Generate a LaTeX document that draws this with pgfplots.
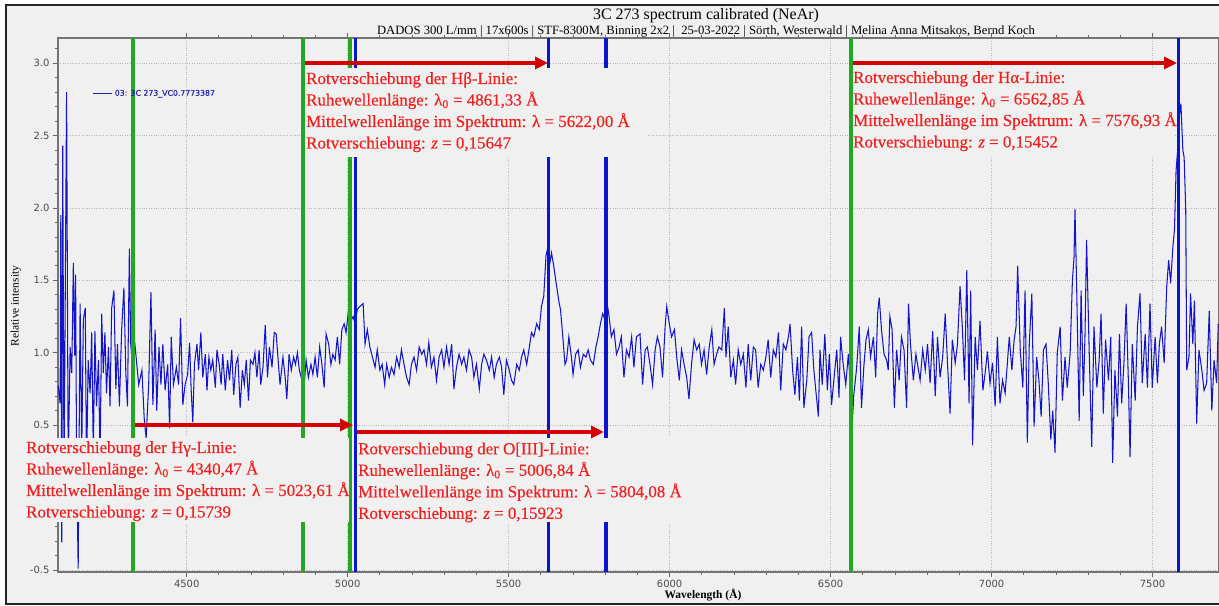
\documentclass[border=0pt]{standalone}
\usepackage{fontspec}
\setmainfont{Liberation Serif}
\newfontfamily\dejavu{DejaVu Sans}
\usepackage{pgfplots}
\pgfplotsset{compat=1.18}
\usetikzlibrary{arrows.meta}
\definecolor{bg}{HTML}{F0F0F0}
\definecolor{specblue}{HTML}{1414C8}
\definecolor{legblue}{HTML}{2222A8}
\definecolor{lgreen}{HTML}{22A822}
\definecolor{lblue}{HTML}{0818C8}
\definecolor{txtred}{HTML}{F02020}
\definecolor{arrred}{HTML}{D40000}
\begin{document}
\begin{tikzpicture}[x=1bp,y=1bp]
\useasboundingbox (0,0) rectangle (1219,606);
\fill[white] (0,0) rectangle (1219,606);
\fill[bg] (6,2) rectangle (1219,601);
\draw[black!85, line width=1.5bp] (1225,601) -- (6,601) -- (6,2) -- (1225,2);
\begin{axis}[
  at={(57.9bp,34bp)}, anchor=south west,
  scale only axis, width=1161bp, height=534bp,
  xmin=4100, xmax=7706, ymin=-0.514, ymax=3.174,
  axis background/.style={fill=bg},
  axis line style={black!55, line width=1.2bp},
  xtick={4500,5000,...,7500},
  ytick={-0.5,0.5,1,1.5,2,2.5,3},
  minor x tick num=4,
  minor ytick={-0.4,-0.3,...,3.1},
  tick align=outside,
  major tick length=5bp, minor tick length=3bp,
  tick style={black!60, line width=0.8bp},
  xmajorgrids, ymajorgrids,
  major grid style={black!28, dotted, line width=0.7bp},
  /pgf/number format/assume math mode=true,
  xticklabel style={font=\dejavu\fontsize{10}{12}\selectfont, text=black!70, /pgf/number format/1000 sep={}},
  yticklabel style={font=\dejavu\fontsize{10}{12}\selectfont, text=black!70, /pgf/number format/.cd, fixed, fixed zerofill, precision=1},
  clip=false,
  legend style={at={(axis cs:4207,2.79)}, anchor=west, draw=none, fill=none, inner sep=0pt, font=\dejavu\fontsize{7.8}{9}\selectfont\addfontfeature{FakeBold=0.4}, text=legblue},
  legend image code/.code={\draw[legblue, line width=1.3bp] (0bp,0bp) -- (19bp,0bp);},
]
\addplot[specblue, line width=1.05bp] coordinates {
(4101,0.77)(4107,0.65)(4109,1.95)(4112,-0.31)(4115,2.43)(4119,0.10)(4127,2.80)(4132,0.20)(4138,1.04)(4143,0.86)(4148,1.62)(4152,0.98)(4155,1.54)(4158,0.25)(4163,-0.49)(4169,1.34)(4174,0.30)(4179,1.23)(4185,1.31)(4189,0.15)(4194,0.95)(4200,0.72)(4205,1.14)(4210,0.30)(4215,1.15)(4220,0.63)(4226,0.95)(4231,0.25)(4236,1.27)(4241,0.86)(4246,1.14)(4251,0.72)(4257,1.04)(4262,0.63)(4267,1.31)(4274,1.43)(4280,0.75)(4285,1.06)(4291,0.63)(4298,1.16)(4305,1.45)(4311,0.86)(4316,0.63)(4322,1.72)(4326,1.07)(4332,0.90)
(4340,1.04)(4345,0.92)(4351,0.78)(4361,0.88)(4368,0.55)(4374,0.41)(4382,0.78)(4389,1.42)(4395,0.64)(4402,1.16)(4407,0.60)(4414,1.04)(4420,0.78)(4426,1.06)(4433,0.74)(4441,0.92)(4447,0.48)(4452,1.11)(4459,0.78)(4468,0.90)(4475,0.78)(4481,1.24)(4488,0.64)(4495,0.78)(4503,0.85)(4509,1.07)(4514,0.74)(4519,0.52)(4524,0.92)(4532,1.06)(4537,0.88)(4544,1.14)(4550,0.83)(4558,0.99)(4563,0.74)(4569,0.97)(4575,0.88)(4581,0.95)(4589,0.76)(4594,1.02)(4601,0.92)(4607,0.78)(4612,0.99)(4620,0.74)(4627,0.95)(4633,0.81)(4640,1.02)(4646,0.71)(4653,0.92)(4659,0.97)(4666,0.62)(4673,0.88)(4679,0.78)(4685,0.95)(4692,0.67)(4698,0.95)(4706,0.92)(4712,1.00)(4718,0.83)(4725,1.02)(4730,0.78)(4737,0.90)(4744,1.19)(4751,0.83)(4757,1.04)(4765,0.90)(4772,1.14)(4778,1.13)(4785,0.92)(4790,0.78)(4799,0.97)(4806,0.83)(4811,0.68)(4818,0.99)(4825,0.88)(4832,0.97)(4838,0.92)(4844,1.00)(4850,0.88)(4858,0.81)(4865,0.78)(4871,0.95)(4878,0.83)(4886,0.92)(4892,0.85)(4899,0.97)(4906,0.83)(4913,1.04)(4920,0.92)(4927,0.76)(4933,1.13)(4941,1.06)(4948,0.92)(4954,0.99)(4961,0.95)(4968,1.11)(4975,0.92)(4982,1.16)(4989,1.20)(4995,1.14)(5003,1.30)
(5010,1.22)(5017,1.25)(5023,1.20)(5030,1.30)(5038,1.32)(5048,1.34)(5054,1.06)(5061,1.16)(5069,1.04)(5077,0.97)(5085,0.90)(5092,1.02)(5100,0.88)(5107,0.92)(5115,0.78)(5121,0.92)(5129,0.83)(5136,0.90)(5144,0.85)(5152,0.97)(5160,0.90)(5167,1.02)(5175,0.92)(5183,0.83)(5191,0.78)(5198,0.92)(5206,0.97)(5214,0.88)(5222,1.04)(5230,0.99)(5237,1.02)(5245,0.92)(5252,1.07)(5260,0.90)(5268,0.97)(5276,0.81)(5284,0.97)(5292,1.02)(5299,0.90)(5307,1.04)(5315,0.92)(5323,1.06)(5330,0.75)(5338,0.90)(5346,0.99)(5354,0.92)(5361,0.97)(5369,0.88)(5377,1.02)(5385,0.97)(5392,0.83)(5400,0.92)(5409,0.75)(5416,0.92)(5423,0.99)(5431,0.95)(5440,0.88)(5447,0.97)(5455,0.83)(5462,0.92)(5471,0.97)(5478,0.90)(5485,0.71)(5493,0.95)(5502,0.88)(5509,0.81)(5516,0.78)(5525,0.92)(5533,0.88)(5540,0.97)(5547,1.02)(5556,0.92)(5563,1.02)(5571,1.14)(5578,1.11)(5587,1.20)(5595,1.16)(5602,1.32)(5609,1.39)(5616,1.67)(5623,1.74)(5628,1.62)(5633,1.69)(5640,1.60)(5649,1.46)(5657,1.34)(5661,1.30)(5669,1.09)(5675,0.92)(5680,0.95)(5687,1.11)(5695,0.97)(5700,0.85)(5708,0.99)(5716,1.02)(5723,0.90)(5732,0.99)(5740,0.97)(5747,1.02)(5754,0.95)(5763,0.92)(5771,1.04)(5778,1.11)(5785,1.20)(5792,1.27)(5799,1.23)(5806,1.34)(5812,1.25)(5819,1.11)(5827,1.16)(5835,0.99)(5843,1.04)(5850,1.11)(5858,0.83)(5866,1.02)(5874,0.97)(5882,1.11)(5889,0.90)(5897,1.11)
(5908,1.13)(5916,0.78)(5924,1.02)(5931,1.04)(5939,0.92)(5947,0.78)(5955,1.02)(5962,1.11)(5970,1.04)(5978,0.83)(5986,1.18)(5991,1.32)(5999,1.20)(6006,1.11)(6015,1.16)(6022,0.97)(6030,0.81)(6037,1.02)(6045,0.92)(6053,0.83)(6060,0.68)(6068,0.92)(6076,1.09)(6084,1.02)(6092,1.06)(6099,0.92)(6107,1.02)(6115,0.85)(6123,1.04)(6131,1.16)(6138,0.92)(6146,0.99)(6153,1.04)(6162,1.02)(6170,1.31)(6175,0.97)(6182,1.18)(6190,0.83)(6198,0.95)(6205,0.78)(6213,1.02)(6221,0.92)(6229,0.99)(6237,0.76)(6244,1.06)(6252,0.81)(6260,1.04)(6267,1.02)(6275,0.76)(6283,0.92)(6291,0.88)(6299,0.97)(6306,1.09)(6314,0.83)(6322,1.02)(6330,0.97)(6338,1.14)(6345,0.74)(6353,1.06)(6361,1.02)(6369,1.11)(6374,1.20)(6382,0.88)(6389,0.71)(6397,0.97)(6403,0.67)(6410,1.18)(6417,0.62)(6426,0.81)(6433,1.11)(6441,1.14)(6448,0.88)(6454,0.74)(6462,0.56)(6467,1.02)(6474,0.78)(6482,1.13)(6490,0.74)(6496,0.99)(6503,0.64)(6510,0.81)(6519,1.02)(6526,0.69)(6531,1.11)(6539,0.92)(6547,0.78)(6555,0.99)(6562,0.74)(6566,0.46)(6572,0.71)(6581,0.90)(6589,1.18)(6596,0.62)(6603,0.90)(6610,1.09)(6617,1.16)(6624,0.97)(6633,1.11)(6640,0.83)(6646,1.27)(6651,1.38)(6658,1.16)(6666,0.99)(6674,0.95)(6679,0.88)(6684,1.25)(6691,1.16)(6698,0.62)(6705,1.02)(6713,0.81)(6720,1.11)(6728,1.02)(6736,0.62)(6742,1.34)(6748,1.06)(6757,0.81)(6765,0.99)
(6778,0.81)(6786,1.02)(6794,0.88)(6801,1.06)(6809,0.79)(6817,1.15)(6825,0.70)(6832,1.11)(6840,0.83)(6848,0.97)(6856,1.27)(6863,0.93)(6871,0.58)(6878,1.09)(6887,0.93)(6894,1.06)(6902,1.46)(6909,1.18)(6916,0.81)(6923,1.57)(6930,0.65)(6935,1.43)(6941,0.36)(6949,1.11)(6956,0.88)(6964,1.22)(6973,0.74)(6980,0.86)(6987,1.01)(6995,0.79)(7003,0.93)(7011,0.63)(7018,1.11)(7026,0.65)(7034,0.81)(7042,0.72)(7049,0.93)(7055,1.11)(7063,0.88)(7070,1.09)(7076,1.18)(7081,1.60)(7089,1.02)(7097,0.76)(7104,1.43)(7111,0.38)(7117,1.06)(7125,1.41)(7132,0.49)(7140,0.97)(7147,0.81)(7154,0.56)(7161,1.02)(7169,1.06)(7176,0.79)(7184,0.40)(7190,0.60)(7197,0.31)(7204,1.00)(7213,1.18)(7220,0.67)(7228,0.97)(7235,0.76)(7244,1.00)(7251,1.50)(7256,1.66)(7259,1.99)(7264,1.48)(7272,0.53)(7278,1.43)(7285,0.70)(7290,1.11)(7295,1.78)(7303,1.02)(7311,0.35)(7318,1.18)(7327,0.76)(7334,0.95)(7340,1.27)(7347,0.58)(7354,1.09)(7363,0.81)(7370,1.11)(7376,0.24)(7383,0.88)(7391,0.56)(7397,1.13)(7404,0.65)(7411,0.93)(7418,1.34)(7425,0.79)(7430,0.28)(7437,1.06)(7446,0.67)(7453,1.18)(7461,1.41)(7468,0.79)(7477,1.13)(7484,0.76)(7492,1.34)(7499,0.76)(7508,1.11)(7515,0.79)(7521,1.06)(7528,1.18)(7536,0.93)(7544,1.46)(7550,1.64)(7556,1.48)(7563,1.73)(7568,1.85)(7573,2.26)(7578,2.40)(7583,2.63)(7588,2.72)(7594,2.40)(7598,2.35)(7603,1.99)(7606,0.88)(7613,0.97)(7618,1.41)(7625,1.06)(7630,1.36)(7637,0.51)(7644,1.02)(7653,0.88)(7660,0.74)(7668,0.79)(7676,1.29)(7684,0.60)(7691,0.95)(7699,0.79)(7704,1.20)
};
\addlegendentry{03: 3C 273\_VC0.7773387}
\addplot[lgreen, line width=3.5bp, forget plot] coordinates {(4334,-0.514) (4334,3.174)};
\addplot[lgreen, line width=3.5bp, forget plot] coordinates {(4861,-0.514) (4861,3.174)};
\addplot[lgreen, line width=3.5bp, forget plot] coordinates {(5007,-0.514) (5007,3.174)};
\addplot[lgreen, line width=3.5bp, forget plot] coordinates {(6563,-0.514) (6563,3.174)};
\addplot[lblue, line width=3.5bp, forget plot] coordinates {(5024,-0.514) (5024,3.174)};
\addplot[lblue, line width=3.5bp, forget plot] coordinates {(5624,-0.514) (5624,3.174)};
\addplot[lblue, line width=3.5bp, forget plot] coordinates {(5803,-0.514) (5803,3.174)};
\addplot[lblue, line width=3.5bp, forget plot] coordinates {(7581,-0.514) (7581,3.174)};
\end{axis}
\tikzset{rt/.style={anchor=base west, inner sep=0pt, text=txtred, font=\fontsize{17}{20}\selectfont\addfontfeature{FakeBold=0.35}}}
% H beta box
\fill[bg] (306,538) rectangle (647,449);
\node[rt] at (306,522) {Rotverschiebung der Hβ-Linie:};
\node[rt] at (306,500.5) {Ruhewellenlänge: λ\textsubscript{0} = 4861,33 Å};
\node[rt] at (306,479) {Mittelwellenlänge im Spektrum: λ = 5622,00 Å};
\node[rt] at (306,457.5) {Rotverschiebung: \textit{z} = 0,15647};
% H alpha box
\fill[bg] (853,538) rectangle (1173,449);
\node[rt] at (853,523) {Rotverschiebung der Hα-Linie:};
\node[rt] at (853,501.5) {Ruhewellenlänge: λ\textsubscript{0} = 6562,85 Å};
\node[rt] at (853,480) {Mittelwellenlänge im Spektrum: λ = 7576,93 Å};
\node[rt] at (853,458.5) {Rotverschiebung: \textit{z} = 0,15452};
% H gamma box
\fill[bg] (22,168) rectangle (349,84);
\node[rt] at (26,153) {Rotverschiebung der Hγ-Linie:};
\node[rt] at (26,131.5) {Ruhewellenlänge: λ\textsubscript{0} = 4340,47 Å};
\node[rt] at (26,110) {Mittelwellenlänge im Spektrum: λ = 5023,61 Å};
\node[rt] at (26,88.5) {Rotverschiebung: \textit{z} = 0,15739};
% O III box
\fill[bg] (357,168) rectangle (690,84);
\node[rt] at (358,151.7) {Rotverschiebung der O[III]-Linie:};
\node[rt] at (358,130.2) {Ruhewellenlänge: λ\textsubscript{0} = 5006,84 Å};
\node[rt] at (358,108.7) {Mittelwellenlänge im Spektrum: λ = 5804,08 Å};
\node[rt] at (358,87.2) {Rotverschiebung: \textit{z} = 0,15923};
% arrows
\tikzset{ra/.style={arrred, line width=3.5bp, -{Triangle[length=13bp, width=12bp]}}}
\draw[ra] (305,543) -- (548,543);
\draw[ra] (853,543) -- (1177,543);
\draw[ra] (135,181) -- (353,181);
\draw[ra] (357,174) -- (604,174);
% titles and labels
\node[anchor=base, inner sep=0pt, font=\fontsize{16}{18}\selectfont] at (706,586) {3C 273 spectrum calibrated (NeAr)};
\node[anchor=base, inner sep=0pt, font=\fontsize{12.7}{14}\selectfont] at (706,571.5) {DADOS 300 L/mm | 17x600s | STF-8300M, Binning 2x2 |\ \ 25-03-2022 | Sörth, Westerwald | Melina Anna Mitsakos, Bernd Koch};
\node[rotate=90, inner sep=0pt, font=\fontsize{11.5}{13}\selectfont] at (16,300) {Relative intensity};
\node[anchor=base, inner sep=0pt, font=\bfseries\fontsize{11.5}{13}\selectfont] at (703,7) {Wavelength (Å)};
\end{tikzpicture}
\end{document}
